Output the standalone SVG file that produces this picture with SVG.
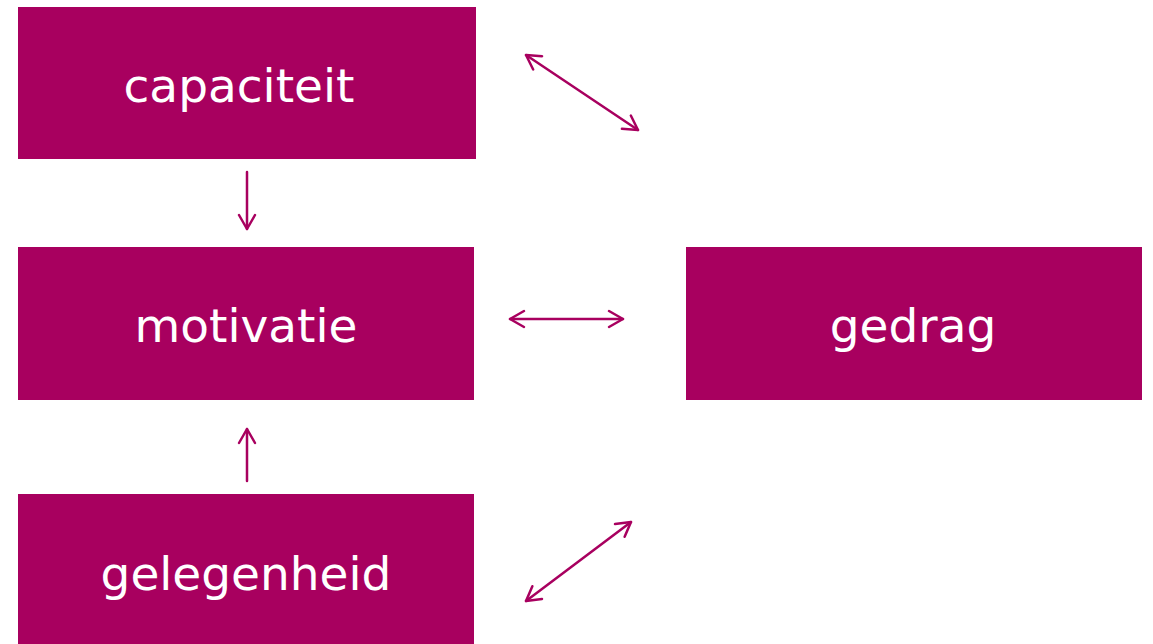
<svg xmlns="http://www.w3.org/2000/svg" width="1153" height="644" viewBox="0 0 1153 644">
  <style>
    .box { fill: #A8005F; }
    .label { fill: #ffffff; font-family: "DejaVu Sans", Verdana, sans-serif; font-size: 47px; text-anchor: middle; }
    .link { stroke: #A8005F; stroke-width: 2.5; fill: none; stroke-linecap: round; }
  </style>
  <defs>
    <marker id="head" viewBox="0 0 18 20" refX="16" refY="10" markerWidth="18" markerHeight="20" markerUnits="userSpaceOnUse" orient="auto-start-reverse">
      <path d="M2,2 L16,10 L2,18" fill="none" stroke="#A8005F" stroke-width="2.5" stroke-linecap="round" stroke-linejoin="round"/>
    </marker>
  </defs>
  <rect width="1153" height="644" fill="#ffffff"/>

  <g id="capaciteit">
    <rect class="box" x="18" y="7" width="458" height="152"/>
    <text class="label" x="239" y="102">capaciteit</text>
  </g>
  <g id="motivatie">
    <rect class="box" x="18" y="247" width="456" height="153"/>
    <text class="label" x="246" y="342">motivatie</text>
  </g>
  <g id="gedrag">
    <rect class="box" x="686" y="247" width="456" height="153"/>
    <text class="label" x="913" y="342">gedrag</text>
  </g>
  <g id="gelegenheid">
    <rect class="box" x="18" y="494" width="456" height="150"/>
    <text class="label" x="246" y="590">gelegenheid</text>
  </g>

  <g id="connectors">
    <line class="link" x1="247" y1="172" x2="247" y2="229" marker-end="url(#head)"/>
    <line class="link" x1="247" y1="481" x2="247" y2="429" marker-end="url(#head)"/>
    <line class="link" x1="510" y1="319" x2="623" y2="319" marker-start="url(#head)" marker-end="url(#head)"/>
    <line class="link" x1="526" y1="55" x2="638" y2="130" marker-start="url(#head)" marker-end="url(#head)"/>
    <line class="link" x1="631" y1="522" x2="526" y2="601" marker-start="url(#head)" marker-end="url(#head)"/>
  </g>
</svg>
